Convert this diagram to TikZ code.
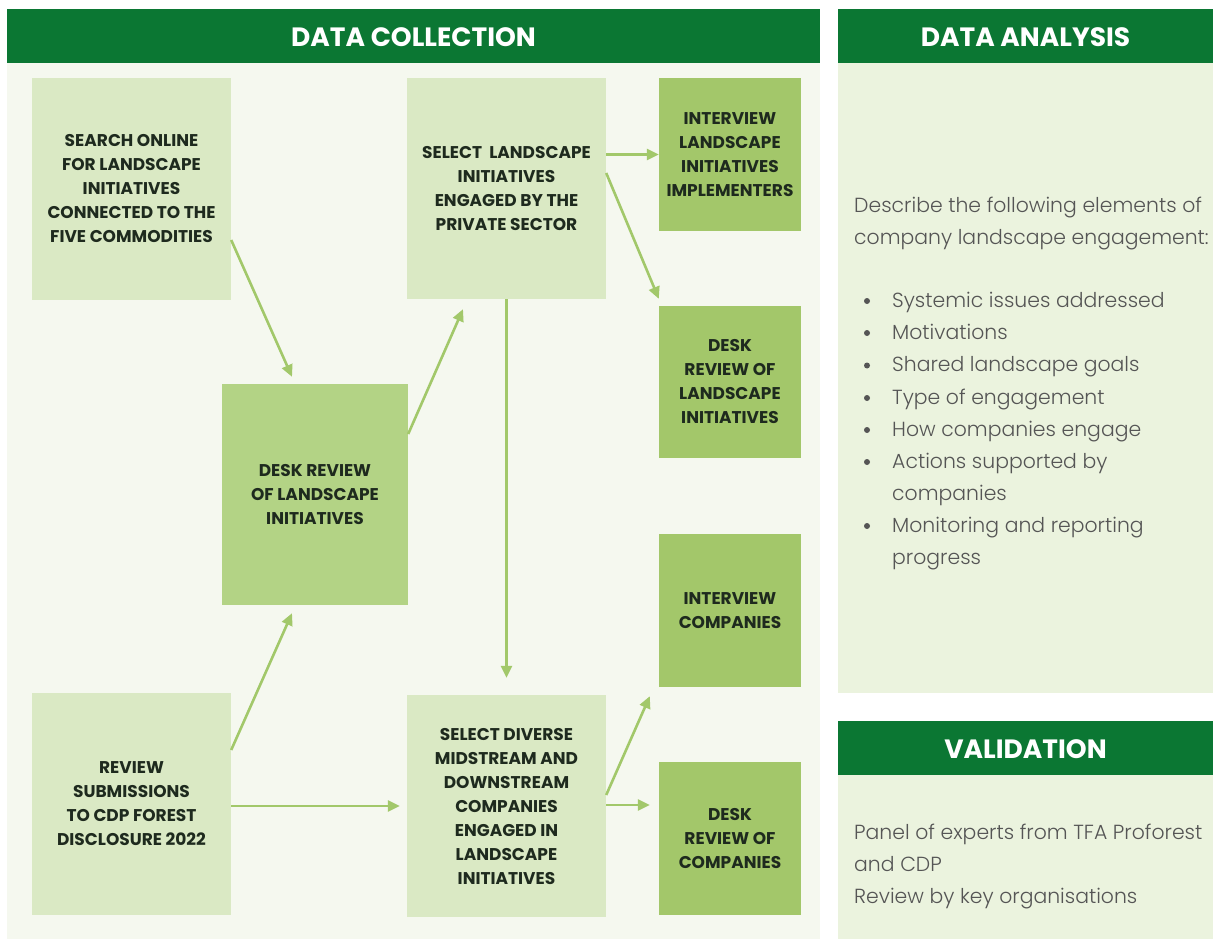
\documentclass[tikz,border=0pt]{standalone}
\usepackage{fontspec}
\setmainfont{Poppins}
\newfontfamily\lightfont{Poppins Light}
\usetikzlibrary{arrows.meta}
\definecolor{hdr}{HTML}{0B7733}
\definecolor{panelL}{HTML}{F5F8EF}
\definecolor{panelR}{HTML}{EBF3DE}
\definecolor{lbox}{HTML}{DAE9C4}
\definecolor{mbox}{HTML}{B3D385}
\definecolor{dbox}{HTML}{A3C76A}
\definecolor{arr}{HTML}{A2C86A}
\definecolor{txt}{HTML}{1E2A1E}
\definecolor{gtxt}{HTML}{555555}
\tikzset{
  boxbase/.style={rectangle, inner sep=0pt, align=center, text=txt, font=\bfseries\fontsize{17}{24}\selectfont},
  lightbox/.style={boxbase, fill=lbox},
  midbox/.style={boxbase, fill=mbox},
  darkbox/.style={boxbase, fill=dbox},
  hdrtext/.style={text=white, font=\bfseries\fontsize{26.5}{30}\selectfont, inner sep=0pt},
  body/.style={text=gtxt, font=\lightfont\fontsize{20.4}{32}\selectfont, inner sep=0pt, anchor=base west},
  dot/.style={circle, fill=gtxt, inner sep=0pt, minimum size=6pt},
  conn/.style={draw=arr, line width=2.6pt, -{Triangle[length=12pt,width=11pt]}},
}
\begin{document}
\begin{tikzpicture}[x=1pt,y=-1pt]
\useasboundingbox (0,0) rectangle (1213,939);
\fill[white] (0,0) rectangle (1213,939);
% panels
\fill[panelL] (7,63) rectangle (820,939);
\fill[hdr] (7,9) rectangle (820,63);
\node[hdrtext] (hc) at (413.5,37) {DATA COLLECTION};
\fill[panelR] (838,63) rectangle (1213,693);
\fill[hdr] (838,9) rectangle (1213,63);
\node[hdrtext] (ha) at (1025.5,37) {DATA ANALYSIS};
\fill[panelR] (838,775) rectangle (1213,939);
\fill[hdr] (838,721) rectangle (1213,775);
\node[hdrtext] (hv) at (1025.5,749) {VALIDATION};
% boxes
\node[lightbox, minimum width=199pt, minimum height=222pt] (search) at (131.5,189)
  {SEARCH ONLINE\\FOR LANDSCAPE\\INITIATIVES\\CONNECTED TO THE\\FIVE COMMODITIES};
\node[midbox, minimum width=186pt, minimum height=221pt] (desk) at (315,494.5)
  {DESK REVIEW\\OF LANDSCAPE\\INITIATIVES};
\node[lightbox, minimum width=199pt, minimum height=222pt] (review) at (131.5,804)
  {REVIEW\\SUBMISSIONS\\TO CDP FOREST\\DISCLOSURE 2022};
\node[lightbox, minimum width=199pt, minimum height=221pt] (selLI) at (506.5,188.5)
  {SELECT\ \ LANDSCAPE\\INITIATIVES\\ENGAGED BY THE\\PRIVATE SECTOR};
\node[lightbox, minimum width=199pt, minimum height=222pt] (selDiv) at (506.5,806)
  {SELECT DIVERSE\\MIDSTREAM AND\\DOWNSTREAM\\COMPANIES\\ENGAGED IN\\LANDSCAPE\\INITIATIVES};
\node[darkbox, minimum width=142pt, minimum height=153pt] (intImpl) at (730,154.5)
  {INTERVIEW\\LANDSCAPE\\INITIATIVES\\IMPLEMENTERS};
\node[darkbox, minimum width=142pt, minimum height=152pt] (deskLI) at (730,382)
  {DESK\\REVIEW OF\\LANDSCAPE\\INITIATIVES};
\node[darkbox, minimum width=142pt, minimum height=153pt] (intComp) at (730,610.5)
  {INTERVIEW\\COMPANIES};
\node[darkbox, minimum width=142pt, minimum height=153pt] (deskComp) at (730,838.5)
  {DESK\\REVIEW OF\\COMPANIES};
% connectors
\draw[conn] ([yshift=-51pt]search.east) -- ([xshift=-23pt,yshift=7pt]desk.north);
\draw[conn] ([yshift=60.5pt]desk.east) -- ([xshift=-43.5pt,yshift=-10pt]selLI.south);
\draw[conn] (selLI.east |- intImpl.west) -- (intImpl.west);
\draw[conn] ([yshift=15.5pt]selLI.east) -- ([yshift=7pt]deskLI.north west);
\draw[conn] (selLI.south) -- ([yshift=17pt]selDiv.north);
\draw[conn] ([yshift=54pt]review.east) -- ([xshift=-23pt,yshift=-8pt]desk.south);
\draw[conn] (review.east |- selDiv.west) -- ([xshift=-7pt]selDiv.west);
\draw[conn] ([yshift=11pt]selDiv.east) -- ([xshift=-9pt,yshift=-9pt]intComp.south west);
\draw[conn] ([yshift=1pt]selDiv.east) -- ([xshift=-9pt,yshift=1pt]selDiv.east -| deskComp.west);
% analysis text
\node[body] (d1) at (854,212) {Describe the following elements of};
\node[body] (d2) at (854,244) {company landscape engagement:};
\foreach \t/\yy [count=\i] in {Systemic issues addressed/307, Motivations/339, Shared landscape goals/371.5, Type of engagement/404, How companies engage/436, Actions supported by/468, Monitoring and reporting/532}{
  \node[dot] (b\i) at (867,\yy-6) {};
  \node[body] (t\i) at (892,\yy) {\t};
}
\node[body] (t6b) at (892,500) {companies};
\node[body] (t7b) at (892,564) {progress};
% validation text
\node[body] (v1) at (854,839) {Panel of experts from TFA Proforest};
\node[body] (v2) at (854,871) {and CDP};
\node[body] (v3) at (854,903) {Review by key organisations};
\end{tikzpicture}
\end{document}
